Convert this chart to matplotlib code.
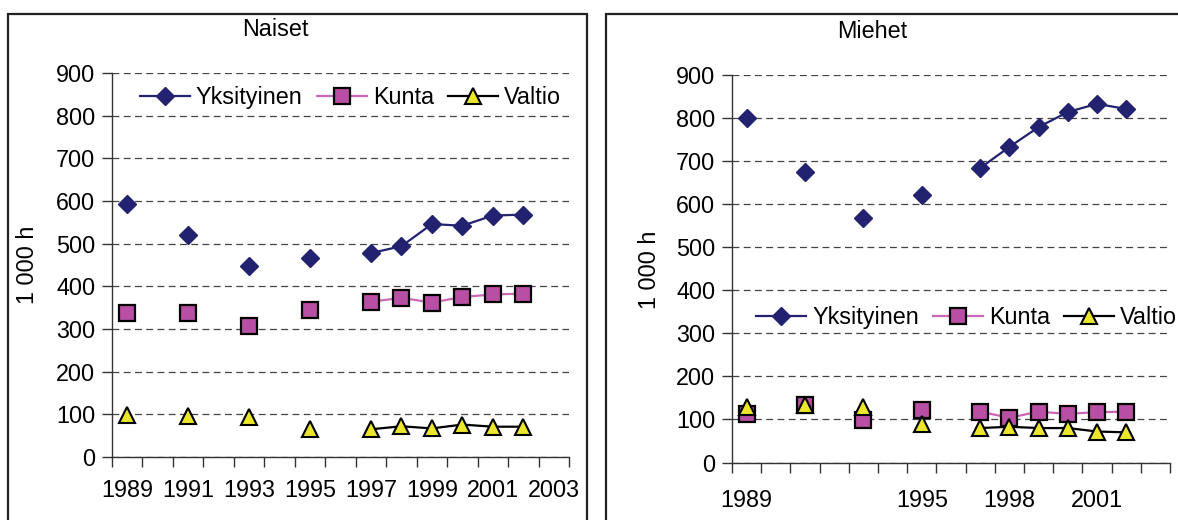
import numpy as np
import matplotlib
matplotlib.use("Agg")
import matplotlib.pyplot as plt
from matplotlib.patches import Rectangle

plt.rcParams['font.family'] = ['Liberation Sans', 'DejaVu Sans']

# vuodet (luokka-akseli 1989-2003)
years = list(range(1989, 2004))

# Naiset, 1 000 h
naiset_yks = [594, np.nan, 520, np.nan, 448, np.nan, 466, np.nan, 478, 494, 546, 542, 566, 568, np.nan]
naiset_kunta = [338, np.nan, 337, np.nan, 308, np.nan, 344, np.nan, 364, 373, 362, 375, 381, 383, np.nan]
naiset_valtio = [98, np.nan, 95, np.nan, 93, np.nan, 66, np.nan, 65, 72, 67, 76, 71, 71, np.nan]

# Miehet, 1 000 h
miehet_yks = [800, np.nan, 675, np.nan, 569, np.nan, 621, np.nan, 684, 733, 779, 814, 833, 821, np.nan]
miehet_kunta = [112, np.nan, 134, np.nan, 99, np.nan, 123, np.nan, 118, 104, 118, 113, 117, 118, np.nan]
miehet_valtio = [130, np.nan, 133, np.nan, 130, np.nan, 90, np.nan, 80, 83, 80, 80, 72, 70, np.nan]

naiset_labels = ['1989', '1991', '1993', '1995', '1997', '1999', '2001', '2003']
miehet_labels = ['1989', '1995', '1998', '2001']

FS = 16.8
W, H = 1178, 520


def px(x0, y0, x1, y1):
    # pikselit -> kuvan koordinaatit
    return [x0 / W, 1 - y1 / H, (x1 - x0) / W, (y1 - y0) / H]


def panel(fig, box, axbox, title, title_xy, ylab_xy, yks, kunta, valtio, labels, leg_xy, pad):
    fig.patches.append(Rectangle((box[0] / W, 1 - box[3] / H), (box[2] - box[0]) / W,
                                 (box[3] - box[1]) / H, transform=fig.transFigure,
                                 fill=False, ec='#222222', lw=1.6, zorder=0))
    fig.text(title_xy[0] / W, 1 - title_xy[1] / H, title, ha='center', va='center', fontsize=FS)
    fig.text(ylab_xy[0] / W, 1 - ylab_xy[1] / H, '1 000 h', ha='center', va='center',
             rotation=90, fontsize=FS)

    ax = fig.add_axes(px(*axbox))
    x = np.arange(len(years))
    ax.plot(x, yks, color='#222270', lw=1.6, marker='D', ms=9.5, mfc='#222270',
            mec='#222270', label='Yksityinen', zorder=3)
    ax.plot(x, kunta, color='#cc66b8', lw=1.6, marker='s', ms=11, mfc='#b84fa4',
            mec='black', mew=1.6, label='Kunta', zorder=4)
    ax.plot(x, valtio, color='black', lw=1.6, marker='^', ms=12, mfc='#ebe62c',
            mec='black', mew=1.5, label='Valtio', zorder=5)

    ax.set_xlim(-0.5, len(years) - 0.5)
    ax.set_ylim(0, 900)
    ax.set_yticks(range(0, 901, 100))
    ax.yaxis.grid(True, linestyle=(0, (5.5, 3.5)), color='#444444', lw=0.9)
    ax.set_axisbelow(True)
    for s in ['top', 'right']:
        ax.spines[s].set_visible(False)
    for s in ['left', 'bottom']:
        ax.spines[s].set_color('#333333')
        ax.spines[s].set_linewidth(1.0)

    # tick marks on category boundaries, labels at category centres
    ax.set_xticks(np.arange(-0.5, len(years)), minor=True)
    ax.set_xticks([years.index(int(l)) for l in labels])
    ax.set_xticklabels(labels)
    ax.tick_params(axis='x', which='major', length=0, pad=pad, labelsize=FS)
    ax.tick_params(axis='x', which='minor', length=7, width=1.0, color='#333333')
    ax.tick_params(axis='y', length=7, width=1.0, color='#333333', labelsize=FS, pad=5)

    ax.legend(loc='center left', bbox_to_anchor=(leg_xy[0], leg_xy[1]), ncol=3,
              frameon=False, fontsize=FS, handlelength=2.15, handletextpad=0.25,
              columnspacing=0.6, borderaxespad=0, borderpad=0)
    return ax


fig = plt.figure(figsize=(W / 100, H / 100), dpi=100)

panel(fig, (8, 14, 587, 540), (112, 73, 569, 457), 'Naiset', (275, 30), (28, 265),
      naiset_yks, naiset_kunta, naiset_valtio, naiset_labels, (0.061, 0.937), 16)
panel(fig, (606, 14, 1200, 540), (732, 75, 1170, 462.5), 'Miehet', (872, 31), (649, 270),
      miehet_yks, miehet_kunta, miehet_valtio, miehet_labels, (0.055, 0.375), 19)

fig.savefig('out.png', dpi=100)
